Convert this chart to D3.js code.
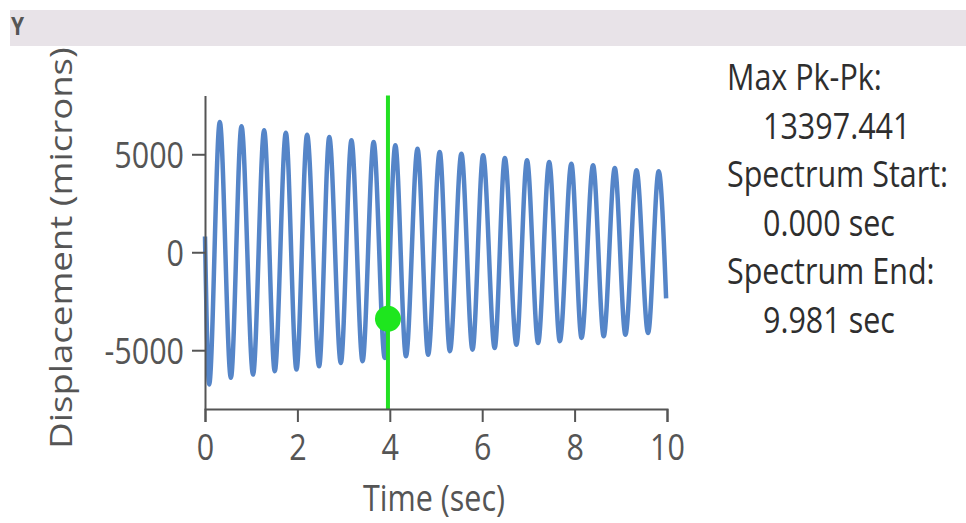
<!DOCTYPE html>
<html>
<head>
<meta charset="utf-8">
<script src="https://cdn.jsdelivr.net/npm/d3@7"></script>
<style>
  body { margin: 0; background: #fff; }
  text { font-family: "Open Sans", "Noto Sans", sans-serif; }
</style>
</head>
<body>
<svg id="chart" width="966" height="523"></svg>
<script>
// Waveform: start, alternating troughs / peaks, end (sec, microns)
var timeSec = [0.00, 0.09, 0.32, 0.56, 0.79, 1.04, 1.28, 1.51, 1.75, 1.98, 2.21,
               2.47, 2.69, 2.94, 3.17, 3.41, 3.65, 3.89, 4.12, 4.35, 4.60, 4.83,
               5.08, 5.30, 5.55, 5.79, 6.02, 6.27, 6.49, 6.74, 6.97, 7.21, 7.45,
               7.68, 7.93, 8.15, 8.40, 8.63, 8.87, 9.10, 9.34, 9.59, 9.82, 9.981];
var displacement = [800, -6750, 6650, -6410, 6430, -6245, 6225, -6070, 6100, -5990, 6000,
                    -5815, 5880, -5650, 5715, -5560, 5630, -5395, 5460, -5305, 5285, -5225,
                    5120, -5050, 5030, -4970, 4950, -4885, 4810, -4715, 4695, -4630, 4605,
                    -4540, 4520, -4370, 4440, -4285, 4300, -4205, 4185, -4115, 4135, -2350];

var xTicks = [0, 2, 4, 6, 8, 10];
var yTicks = [-5000, 0, 5000];

// cursor
var markerTime = 3.96;
var markerValue = -3400;

// side panel
var infoLines = [
  { text: "Max Pk-Pk:", indent: false },
  { text: "13397.441", indent: true },
  { text: "Spectrum Start:", indent: false },
  { text: "0.000 sec", indent: true },
  { text: "Spectrum End:", indent: false },
  { text: "9.981 sec", indent: true }
];

var FS = 30.5;      // font size
var STRETCH = 1.2;  // the screenshot text is a bit taller than wide

var svg = d3.select("#chart");

// header strip
svg.append("rect")
  .attr("x", 10).attr("y", 10)
  .attr("width", 956).attr("height", 36)
  .attr("fill", "#e8e3e8");
svg.append("text")
  .attr("transform", "translate(11,35) scale(1," + STRETCH + ")")
  .attr("font-size", 21)
  .attr("font-weight", "bold")
  .attr("fill", "#555")
  .text("Y");

var x = d3.scaleLinear().domain([0, 10]).range([205, 667]);
var y = d3.scaleLinear().domain([-8000, 8000]).range([409, 95.5]);

var pts = timeSec.map(function(t, i) { return [t, displacement[i]]; });

var line = d3.line()
  .x(function(d) { return x(d[0]); })
  .y(function(d) { return y(d[1]); })
  .curve(d3.curveMonotoneX);

svg.append("path")
  .datum(pts)
  .attr("d", line)
  .attr("fill", "none")
  .attr("stroke", "#5585c8")
  .attr("stroke-width", 4.5)
  .attr("stroke-linejoin", "round");

// cursor line + dot
svg.append("line")
  .attr("x1", x(markerTime)).attr("x2", x(markerTime))
  .attr("y1", y(8000)).attr("y2", y(-8000))
  .attr("stroke", "#22e022")
  .attr("stroke-width", 4);
svg.append("circle")
  .attr("cx", x(markerTime))
  .attr("cy", y(markerValue))
  .attr("r", 13)
  .attr("fill", "#1ee61e");

// axes
var plain = function(d) { return String(d); };
var gx = svg.append("g")
  .attr("transform", "translate(0," + y(-8000) + ")")
  .call(d3.axisBottom(x).tickValues(xTicks).tickFormat(plain).tickSize(13).tickSizeOuter(13));
var gy = svg.append("g")
  .attr("transform", "translate(" + x(0) + ",0)")
  .call(d3.axisLeft(y).tickValues(yTicks).tickFormat(plain).tickSize(13).tickSizeOuter(0));

[gx, gy].forEach(function(g) {
  g.select(".domain").attr("stroke", "#555").attr("stroke-width", 2);
  g.selectAll(".tick line").attr("stroke", "#555").attr("stroke-width", 2);
  g.selectAll(".tick text")
    .attr("font-family", "Open Sans, Noto Sans, sans-serif")
    .attr("font-size", FS)
    .attr("fill", "#555")
    .attr("dy", null);
});
gx.selectAll(".tick text")
  .attr("y", null)
  .attr("transform", "translate(0,51) scale(1," + STRETCH + ")");
gy.selectAll(".tick text")
  .attr("x", null)
  .attr("transform", "translate(-21,13) scale(1," + STRETCH + ")");

// axis titles
svg.append("text")
  .attr("transform", "translate(434,511) scale(1," + STRETCH + ")")
  .attr("text-anchor", "middle")
  .attr("font-size", FS)
  .attr("fill", "#555")
  .text("Time (sec)");
svg.append("text")
  .attr("transform", "translate(72,248) scale(1," + STRETCH + ") rotate(-90)")
  .attr("text-anchor", "middle")
  .attr("font-size", FS)
  .attr("fill", "#555")
  .text("Displacement (microns)");

// info panel
svg.selectAll(".info")
  .data(infoLines)
  .enter().append("text")
  .attr("class", "info")
  .attr("transform", function(d, i) {
    return "translate(" + (d.indent ? 763 : 727) + "," + (90 + i * 48.6) + ") scale(1," + STRETCH + ")";
  })
  .attr("font-size", FS)
  .attr("fill", "#2e2e2e")
  .text(function(d) { return d.text; });
</script>
</body>
</html>
